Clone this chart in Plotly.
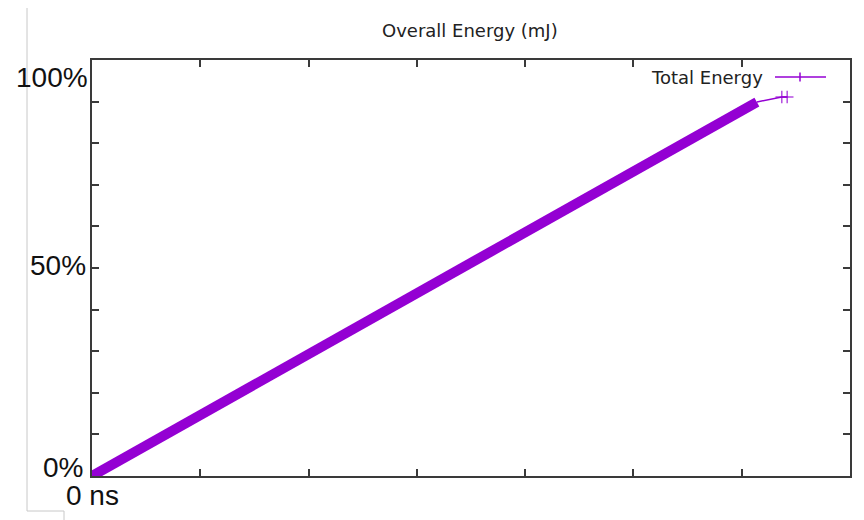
import plotly.graph_objects as go

# ---- data ----
time_ns = [0.0, 6.14, 6.37, 6.42]          # x values (axis runs 0..7)
energy_pct = [0.0, 89.9, 91.1, 91.1]       # cumulative energy, percent
dense_count = 2                            # first points form the dense (thick) band
series_name = "Total Energy"
chart_title = "Overall Energy (mJ)"
x_tick_vals = [0, 1, 2, 3, 4, 5, 6, 7]
x_label_vals = [0]
x_label_text = ["0 ns"]
y_tick_vals = [0, 10, 20, 30, 40, 50, 60, 70, 80, 90, 100]
y_label_vals = [0, 50, 100]
y_label_text = ["0%", "50%", "100%"]

# page body adds an 8px margin, so work in coordinates shifted by 8
OFF = 8
W, H = 864 - OFF, 520 - OFF
L, R, T, B = 92 - OFF, 850 - OFF, 60 - OFF, 476 - OFF
PURPLE = "#9400D3"
FRAME = "#3a3a3a"


def px(x):
    return (x - OFF - L) / (R - L)


def py(y):
    return (B - (y - OFF)) / (B - T)


fig = go.Figure()
# dense part: many overlapping points give a thick band
fig.add_trace(go.Scatter(
    x=time_ns[:dense_count], y=energy_pct[:dense_count], mode="lines",
    line=dict(color=PURPLE, width=10), showlegend=False, hoverinfo="skip"))
# sparse tail with + markers
tail_x = time_ns[dense_count - 1:]
tail_y = energy_pct[dense_count - 1:]
fig.add_trace(go.Scatter(
    x=tail_x, y=tail_y, mode="lines+markers",
    line=dict(color=PURPLE, width=1.5),
    marker=dict(symbol="cross-thin-open", size=[0] + [9] * (len(tail_x) - 1),
                line=dict(color=PURPLE, width=1.5)),
    name=series_name, showlegend=False))

axis_common = dict(showgrid=False, zeroline=False, showline=True, linecolor=FRAME,
                   linewidth=1.5, mirror="allticks", ticks="inside", ticklen=7,
                   tickwidth=1.5, tickcolor=FRAME, showticklabels=False)
fig.update_xaxes(range=[0, 7], tickmode="array", tickvals=x_tick_vals, **axis_common)
fig.update_yaxes(range=[0, 100], tickmode="array", tickvals=y_tick_vals, **axis_common)

annotations = []
label_font = dict(family="Liberation Sans, Arial, sans-serif", size=28, color="#111")
y_shifts = [9, 3, -17]
y_xshift = [-7, -4, -2]
for v, t, ys, xs in zip(y_label_vals, y_label_text, y_shifts, y_xshift):
    annotations.append(dict(x=0, xref="paper", y=v, yref="y", text=t, showarrow=False,
                            xanchor="right", yanchor="middle", xshift=xs, yshift=ys,
                            font=label_font))
for v, t in zip(x_label_vals, x_label_text):
    annotations.append(dict(x=v, xref="x", y=0, yref="paper", text=t, showarrow=False,
                            xanchor="center", yanchor="middle", yshift=-19,
                            font=label_font))
small_font = dict(family="DejaVu Sans, sans-serif", size=18, color="#222")
# title
annotations.append(dict(x=px(470), xref="paper", y=py(30), yref="paper", text=chart_title,
                        showarrow=False, xanchor="center", yanchor="middle", font=small_font))
# manual gnuplot-style legend (text left, sample right)
annotations.append(dict(x=px(765), xref="paper", y=py(78), yref="paper", text=series_name,
                        showarrow=False, xanchor="right", yanchor="middle", font=small_font))

shapes = [
    dict(type="line", xref="paper", yref="paper", x0=px(775), x1=px(826), y0=py(77), y1=py(77),
         line=dict(color=PURPLE, width=1.5)),
    dict(type="line", xref="paper", yref="paper", x0=px(800), x1=px(800), y0=py(72.5), y1=py(81.5),
         line=dict(color=PURPLE, width=1.5)),
    # stray page-frame lines seen in the screenshot
    dict(type="line", xref="paper", yref="paper", x0=px(27), x1=px(27), y0=py(8), y1=py(511),
         line=dict(color="#c8c8c8", width=1)),
    dict(type="line", xref="paper", yref="paper", x0=px(27), x1=px(64), y0=py(511), y1=py(511),
         line=dict(color="#c8c8c8", width=1)),
    dict(type="line", xref="paper", yref="paper", x0=px(64), x1=px(64), y0=py(511), y1=py(520),
         line=dict(color="#c8c8c8", width=1)),
]

fig.update_layout(
    width=W, height=H,
    margin=dict(l=L, r=W - R, t=T, b=H - B),
    paper_bgcolor="white", plot_bgcolor="white",
    showlegend=False,
    annotations=annotations, shapes=shapes,
)

fig.write_html("out.html")
